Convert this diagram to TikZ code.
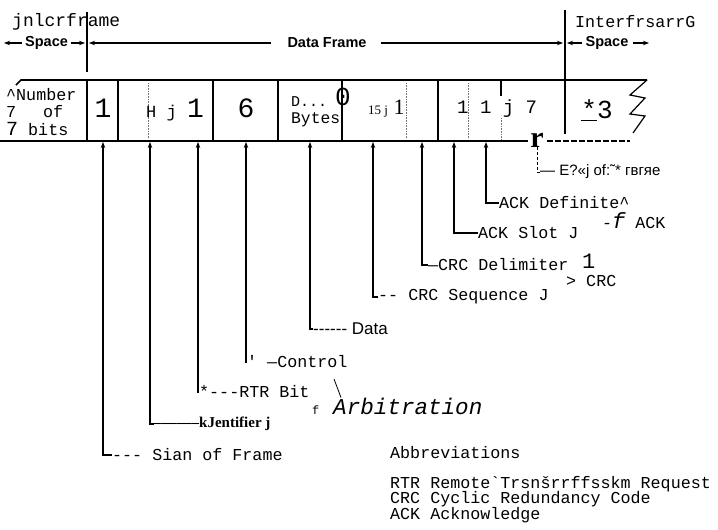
\documentclass[tikz,border=0pt]{standalone}
\usepackage{fontspec}
\setmainfont{Liberation Serif}
\setsansfont{Liberation Sans}
\setmonofont{Liberation Mono}
\usepackage{tikz}
\usetikzlibrary{arrows.meta, positioning}
\setlength{\lineskiplimit}{-20pt}

\begin{document}
\begin{tikzpicture}[
  x=1pt, y=-1pt,
  lbl/.style={
    font=\fontsize{16.7}{15.5}\selectfont\ttfamily,
    anchor=west, inner sep=0pt
  },
  tag/.style={
    font=\fontsize{14.5}{16}\selectfont\sffamily\bfseries,
    inner sep=0pt
  },
  digit/.style={font=\fontsize{28}{28}\selectfont\ttfamily, inner sep=0pt},
  pointer/.style={-{Stealth[length=6pt,width=4.5pt]}, line width=1.3pt},
  span/.style={-{Stealth[length=6pt,width=4.5pt]}, line width=1.3pt},
  wall/.style={line width=1.3pt},
  faint/.style={densely dotted, line width=0.6pt, black!55}
]
\useasboundingbox (0,0) rectangle (718,530);

% frame outline
\draw[line width=1.6pt] (16,85) -- (21,80) -- (647,80);
\draw[line width=1.6pt] (0,141) -- (528,141);
\draw[line width=1.6pt, dash pattern=on 6pt off 2pt] (547,141) -- (630,141);
\draw[line width=1.2pt] (647,80) -- (630,95) -- (645,98) -- (630,114) -- (645,116) -- (633,133);

% cell walls
\foreach \x in {87,118,213,278,342,438}
  \draw[wall] (\x,80) -- (\x,141);
\draw[wall] (565,10) -- (565,134);
\draw[wall] (87,12) -- (87,72);
\draw[wall] (501,80) -- (501,96);
\foreach \x in {148,406,468}
  \draw[faint] (\x,83) -- (\x,139);
\draw[faint] (501,118) -- (501,139);

% top labels
\node[lbl, font=\fontsize{18}{18}\selectfont\ttfamily] (ifl) at (12,22) {jnlcrframe};
\node[lbl] (ifr) at (575,22) {InterfrsarrG};

\node[tag, anchor=west] (spl) at (25,43) {Space};
\coordinate (spla) at (4,43);
\coordinate (splb) at (85,43);
\draw[span, shorten <=3pt] (spl.west) -- (spla);
\draw[span, shorten <=3pt] (spl.east) -- (splb);

\node[tag] (df) at (327,43) {Data Frame};
\coordinate (dfl) at (89,43);
\coordinate (dfr) at (563,43);
\draw[span, shorten <=16pt] (df.west) -- (dfl);
\draw[span, shorten <=14pt] (df.east) -- (dfr);

\node[tag] (spr) at (607,43) {Space};
\coordinate (spra) at (567,43);
\coordinate (sprb) at (649,43);
\draw[span, shorten <=3pt] (spr.west) -- (spra);
\draw[span, shorten <=4pt] (spr.east) -- (sprb);

% cell contents
\node[lbl, align=left, font=\fontsize{16.7}{17.5}\selectfont\ttfamily] (nbits) at (6,112)
  {\textasciicircum Number\\7\hspace{27pt}of\\{\fontsize{20}{17.5}\selectfont 7} bits};
\node[digit] (sof) at (103,108) {1};
\node[lbl, font=\fontsize{17}{17}\selectfont\ttfamily] (ident) at (146,110)
  {H j {\fontsize{28}{28}\selectfont 1}};
\node[digit] (ctrl) at (246,108) {6};
\node[lbl, font=\fontsize{15}{15}\selectfont\ttfamily] (dots) at (291,102) {D...};
\node[digit, font=\fontsize{26}{26}\selectfont\ttfamily] (zero) at (343,97) {0};
\node[lbl, font=\fontsize{16.3}{16}\selectfont\ttfamily] (bytes) at (291,120) {Bytes};
\node[anchor=west, inner sep=0pt, font=\fontsize{22}{22}\selectfont] (crc) at (368,109)
  {{\fontsize{13}{13}\selectfont 15 j} 1};
\node[lbl, font=\fontsize{19}{19}\selectfont\ttfamily] (ack) at (457,109) {1 1 j 7};
\node[digit, font=\fontsize{26}{26}\selectfont\ttfamily] (ifs) at (597,110) {\underline{*}3};
\node[inner sep=0pt, font=\fontsize{30}{30}\selectfont\bfseries] (rmark) at (537,140) {r};

% arrow feet
\coordinate (p1) at (103,142);
\coordinate (p2) at (150,142);
\coordinate (p3) at (198,142);
\coordinate (p4) at (246,142);
\coordinate (p5) at (310,142);
\coordinate (p6) at (373,142);
\coordinate (p7) at (422,142);
\coordinate (p8) at (454,142);
\coordinate (p9) at (486,142);

% field labels
\node[lbl] (lsof) at (112,455) {--- Sian of Frame};
\node[anchor=west, inner sep=0pt, font=\fontsize{15}{15}\selectfont\bfseries] (lid) at (154,424)
  {--{}--{}--{}--{}--{}--{}kJentifier j};
\node[lbl] (lrtr) at (199,392) {*---RTR Bit};
\node[lbl] (lctrl) at (247,362) {' —Control};
\node[anchor=west, inner sep=0pt, font=\fontsize{17}{17}\selectfont\sffamily] (ldata) at (313,329)
  {-{}-{}-{}-{}-{}- Data};
\node[lbl] (lcrcs) at (378,297) {-- CRC Sequence J};
\node[lbl] (lcrcd) at (428,265) {—CRC Delimiter};
\node[lbl, font=\fontsize{22}{22}\selectfont\ttfamily] (lone) at (582,261) {1};
\node[lbl] (lcrc) at (566,281) {> CRC};
\node[lbl] (lslot) at (478,233) {ACK Slot J};
\node[lbl] (ldef) at (499,203) {ACK Definite\textasciicircum};
\node[lbl] (lack) at (602,221) {-{\itshape\fontsize{22}{22}\selectfont f} ACK};
\node[anchor=west, inner sep=0pt, font=\fontsize{15}{15}\selectfont\sffamily] (leof) at (540,172)
  {— E?«j of:˜* гвгяе};

\draw[pointer] (lsof.west) -| (p1);
\draw[pointer] (lid.west) -| (p2);
\draw[pointer] (lrtr.west) -| (p3);
\draw[pointer] (lctrl.west) -| (p4);
\draw[pointer] (ldata.west) -| (p5);
\draw[pointer] (lcrcs.west) -| (p6);
\draw[pointer] (lcrcd.west) -| (p7);
\draw[pointer] (lslot.west) -| (p8);
\draw[pointer] (ldef.west) -| (p9);
\draw[densely dashed, line width=0.8pt] (leof.west) -| (rmark.south);

% arbitration note
\node[anchor=west, inner sep=0pt, font=\fontsize{22.6}{24}\selectfont\ttfamily\itshape] (arb) at (333,406) {Arbitration};
\node[lbl, font=\fontsize{12}{12}\selectfont\ttfamily] (arbf) at (312,410) {f};
\coordinate (arbtop) at (334,379);
\draw[line width=0.8pt] (arbtop) -- ([xshift=8pt]arb.north west);

% abbreviations
\node[lbl] (abbr) at (390,453) {Abbreviations};
\node[lbl, anchor=north west, align=left] (abbrlist) at (390,476)
  {RTR Remote`Trsnšrrffsskm Request\\CRC Cyclic Redundancy Code\\ACK Acknowledge};

\end{tikzpicture}
\end{document}
